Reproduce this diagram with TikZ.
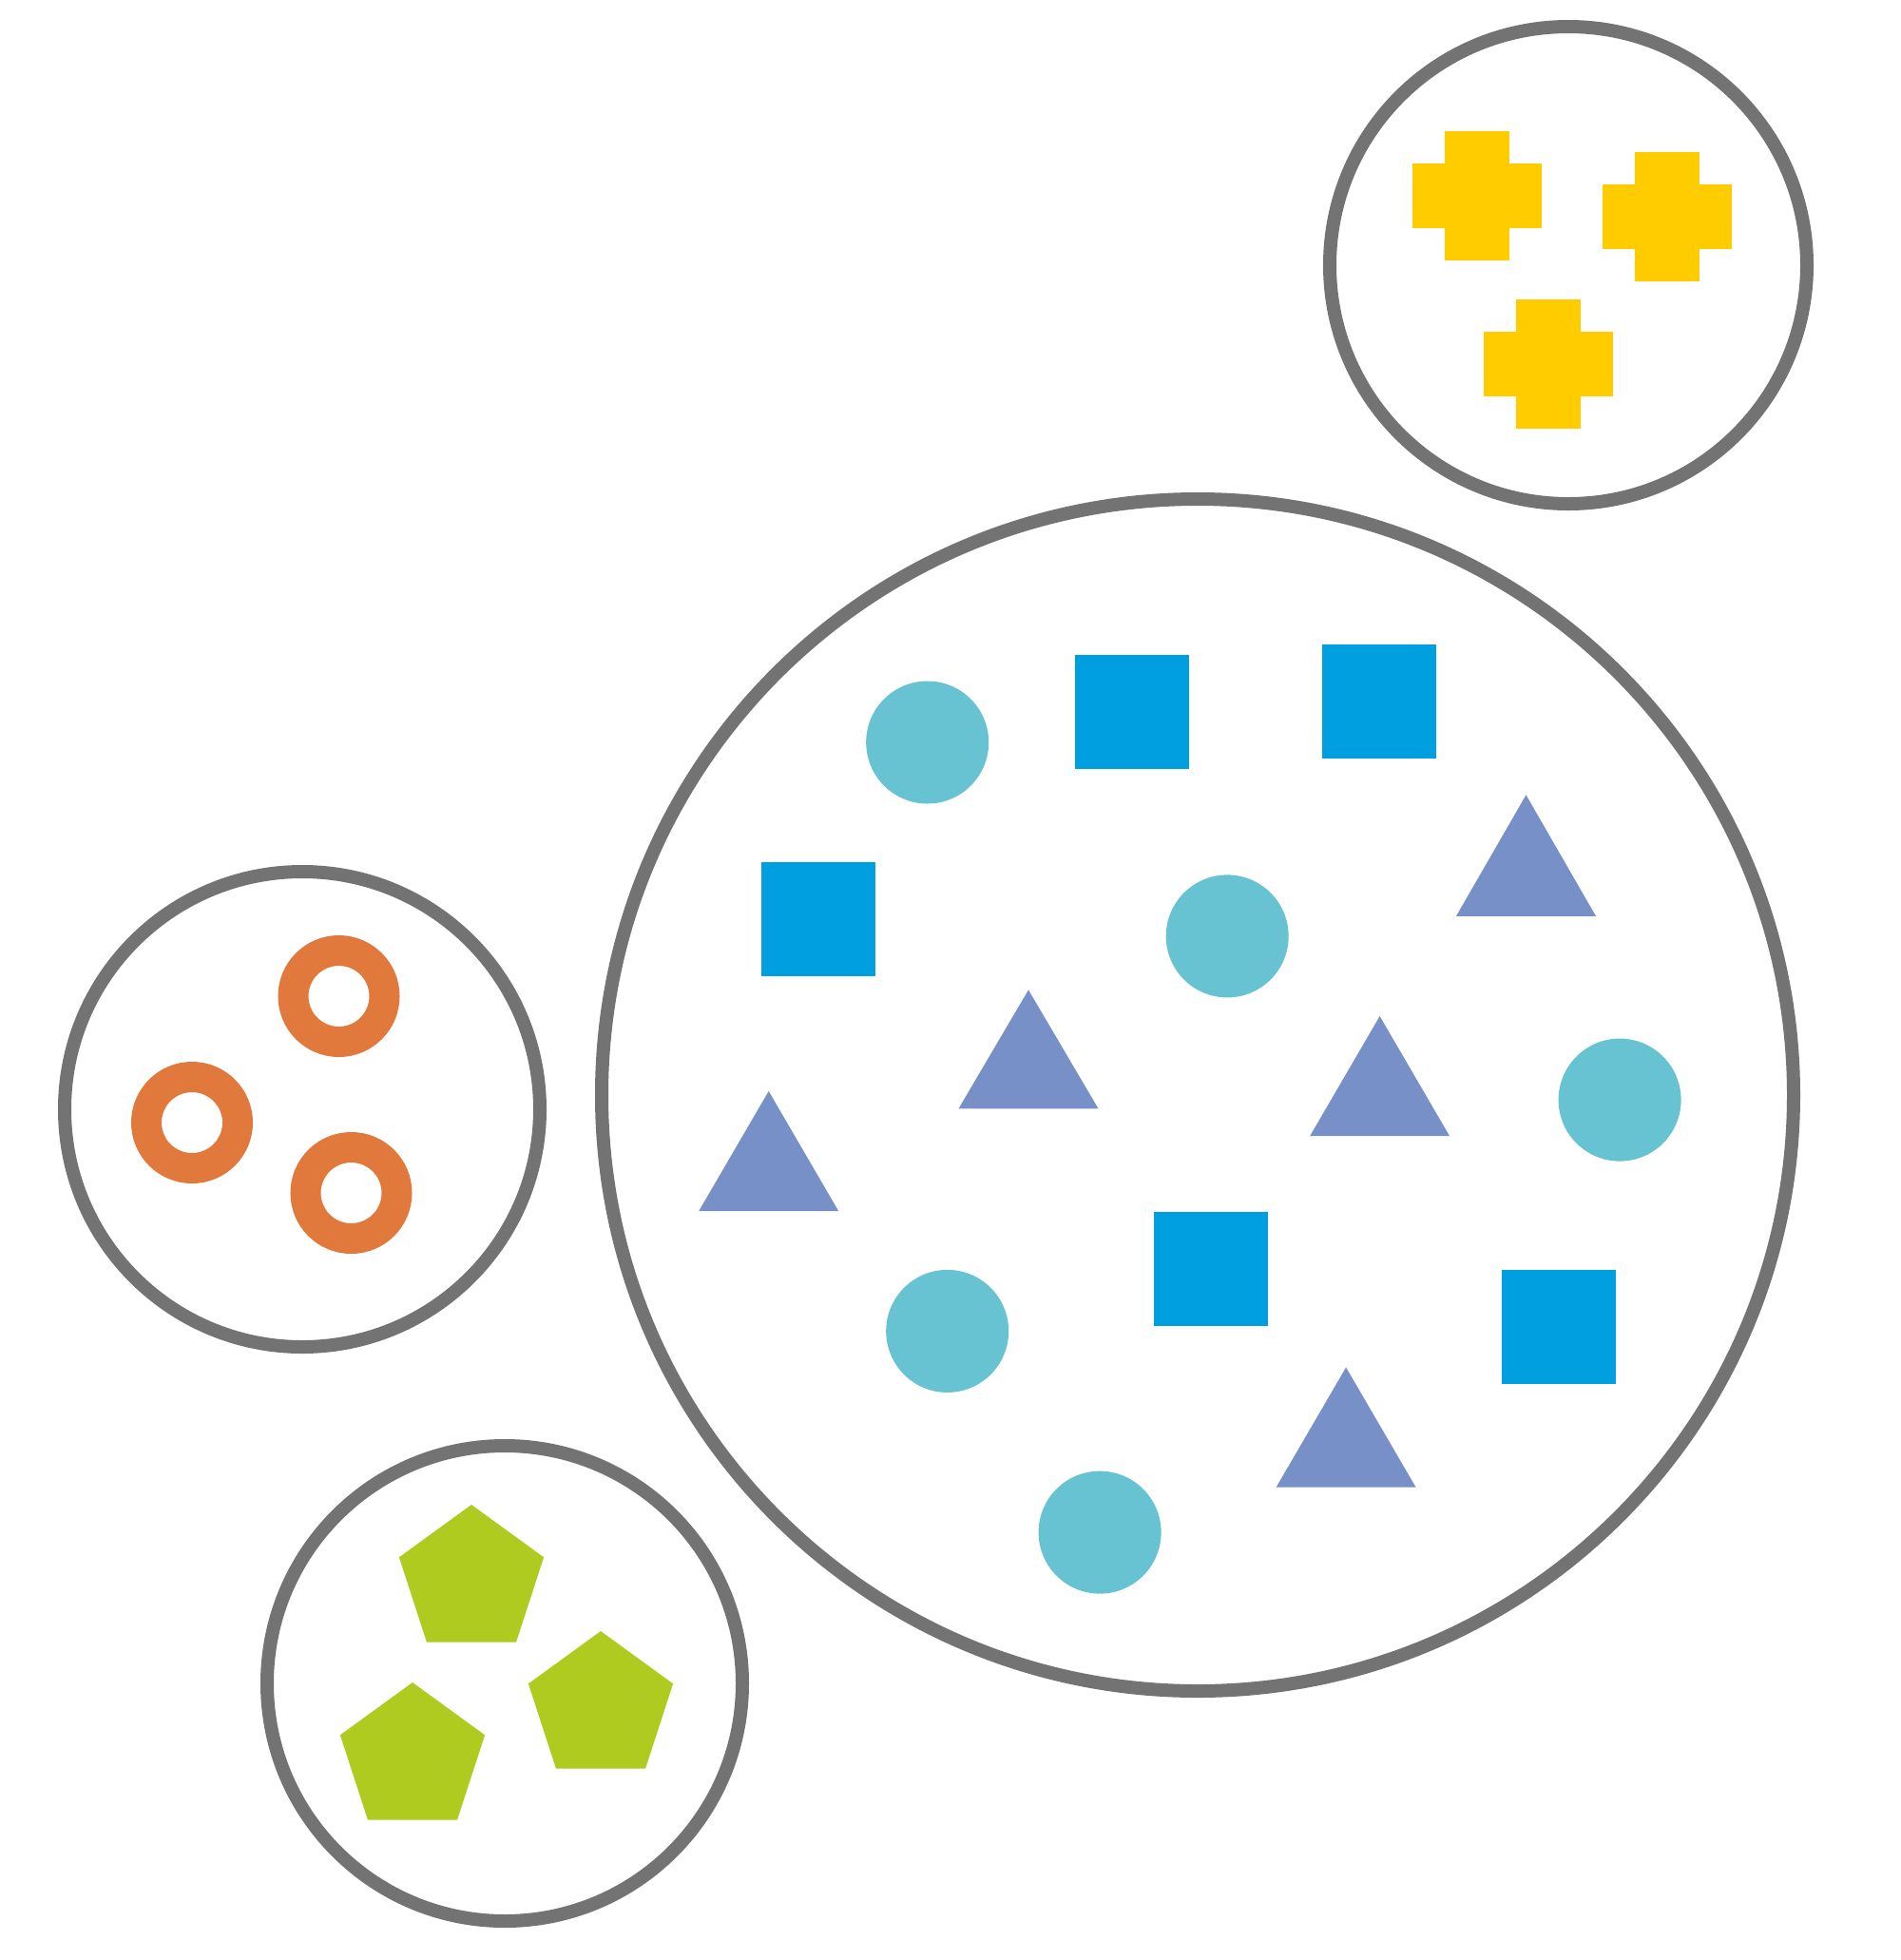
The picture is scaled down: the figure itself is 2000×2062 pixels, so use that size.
\documentclass[tikz,border=0pt]{standalone}
\usetikzlibrary{shapes.geometric}
\definecolor{ringgrey}{HTML}{737373}
\definecolor{cyellow}{HTML}{FFCC00}
\definecolor{corange}{HTML}{E2793C}
\definecolor{cgreen}{HTML}{AFCB1F}
\definecolor{cteal}{HTML}{67C3D2}
\definecolor{cblue}{HTML}{009FE0}
\definecolor{cpurple}{HTML}{7890C8}
\tikzset{
  group/.style={draw=ringgrey,line width=14pt,fill=none},
  dot/.style={fill=cteal},
  sq/.style={fill=cblue},
  tri/.style={fill=cpurple},
  ring/.style={draw=corange,line width=32pt},
  pent/.style={fill=cgreen},
  crossfill/.style={fill=cyellow}
}
\newcommand{\crossat}[2]{%
  \fill[crossfill] (#1-68,#2-34) rectangle (#1+68,#2+34);
  \fill[crossfill] (#1-34,#2-68) rectangle (#1+34,#2+68);}
\newcommand{\triat}[3]{% apex x, apex y, base y
  \fill[tri] (#1,#2) -- (#1+73.5,#3) -- (#1-73.5,#3) -- cycle;}
\newcommand{\sqat}[2]{%
  \fill[sq] (#1-60,#2-60) rectangle (#1+60,#2+60);}
\begin{document}
\begin{tikzpicture}[x=1pt,y=-1pt]
\useasboundingbox (0,0) rectangle (2000,2062);
% group circles
\draw[group] (1260,1152) circle (627);
\draw[group] (1650,279) circle (251);
\draw[group] (318,1167) circle (250);
\draw[group] (531,1771) circle (250);
% yellow crosses
\crossat{1554}{205.5}
\crossat{1753.5}{228}
\crossat{1628.5}{382.5}
% orange rings
\draw[ring] (356.5,1048) circle (48);
\draw[ring] (202,1181) circle (48);
\draw[ring] (369.5,1255) circle (48);
% green pentagons
\fill[pent] (496,1583) -- (572.1,1638.3) -- (543,1727.7) -- (449,1727.7) -- (419.9,1638.3) -- cycle;
\fill[pent] (632,1716) -- (708.1,1771.3) -- (679,1860.7) -- (585,1860.7) -- (555.9,1771.3) -- cycle;
\fill[pent] (434,1770) -- (510.1,1825.3) -- (481,1914.7) -- (387,1914.7) -- (357.9,1825.3) -- cycle;
% teal dots
\fill[dot] (975.7,781) circle (64.5);
\fill[dot] (1291.2,984.9) circle (64.5);
\fill[dot] (1704.1,1157.1) circle (64.5);
\fill[dot] (996.7,1400.4) circle (64.5);
\fill[dot] (1157.1,1612.1) circle (64.5);
% blue squares
\sqat{1190.6}{748.9}
\sqat{1451}{738.3}
\sqat{860.6}{967.1}
\sqat{1273.5}{1335.3}
\sqat{1639.7}{1395.8}
% purple triangles
\triat{1605.5}{836.3}{963.8}
\triat{1082}{1041.4}{1166.3}
\triat{1451.6}{1069}{1195.2}
\triat{808.7}{1147.9}{1274.1}
\triat{1416.1}{1438.5}{1564.7}
\end{tikzpicture}
\end{document}
